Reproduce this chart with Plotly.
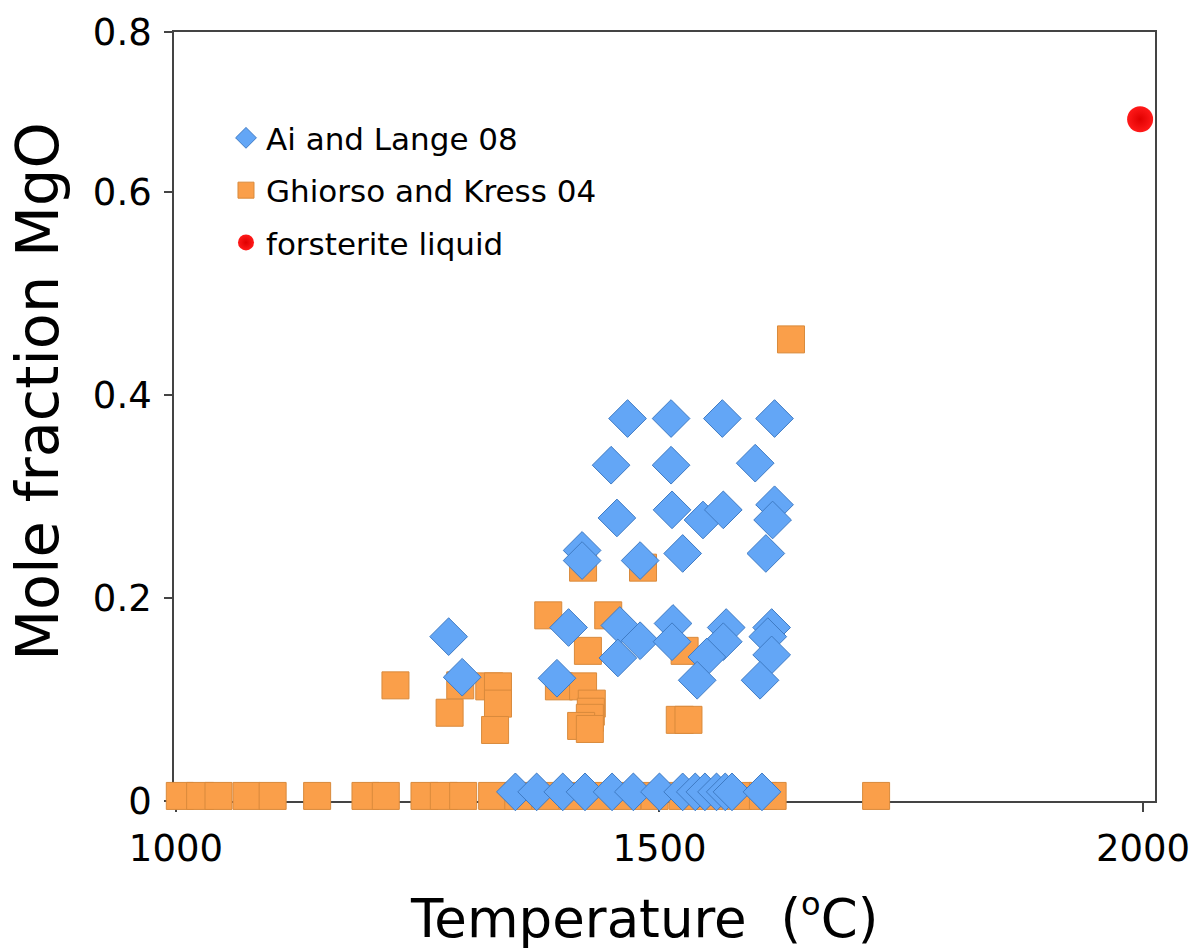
import plotly.graph_objects as go

# Ai and Lange (2008): temperature (°C) and mole fraction MgO
ai_temp = [1467, 1512, 1565, 1619,
           1450, 1512, 1599,
           1456, 1513, 1545, 1566, 1619, 1617,
           1420, 1420, 1480, 1524, 1610,
           1282, 1296, 1394, 1406, 1459, 1480, 1457, 1514, 1513,
           1569, 1566, 1549, 1539, 1616, 1612, 1616, 1604,
           1351, 1373, 1400, 1423, 1451, 1473, 1500, 1524, 1537,
           1547, 1559, 1568, 1575, 1606]
ai_mgo = [0.377, 0.377, 0.377, 0.377,
          0.331, 0.331, 0.333,
          0.279, 0.287, 0.277, 0.287, 0.292, 0.277,
          0.247, 0.237, 0.237, 0.244, 0.244,
          0.162, 0.122, 0.121, 0.171, 0.173, 0.158, 0.141, 0.175, 0.157,
          0.171, 0.157, 0.142, 0.119, 0.171, 0.162, 0.144, 0.119,
          0.009, 0.009, 0.009, 0.009, 0.009, 0.009, 0.009, 0.009, 0.009,
          0.009, 0.009, 0.009, 0.009, 0.009]

# Ghiorso and Kress (2004)
gk_temp = [1227, 1294, 1283, 1324, 1333, 1333, 1330,
           1385, 1447, 1426, 1526, 1396, 1421,
           1430, 1429, 1428, 1419, 1428, 1521, 1530,
           1421, 1483, 1636,
           1004, 1025, 1044, 1073, 1100, 1146, 1196, 1217, 1257, 1277,
           1297, 1327, 1354, 1382, 1410, 1438, 1467, 1495, 1524, 1552,
           1581, 1607, 1617, 1724]
gk_mgo = [0.114, 0.114, 0.087, 0.113, 0.113, 0.096, 0.070,
          0.183, 0.183, 0.148, 0.148, 0.113, 0.113,
          0.096, 0.088, 0.082, 0.074, 0.071, 0.080, 0.080,
          0.230, 0.230, 0.455,
          0.005, 0.005, 0.005, 0.005, 0.005, 0.005, 0.005, 0.005, 0.005, 0.005,
          0.005, 0.005, 0.005, 0.005, 0.005, 0.005, 0.005, 0.005, 0.005, 0.005,
          0.005, 0.005, 0.005, 0.005]

# Forsterite liquid
fo_temp = [1997]
fo_mgo = [0.672]

x_ticks = [1000, 1500, 2000]
y_tickvals = [0, 0.2, 0.4, 0.6, 0.758]
y_ticktext = ["0", "0.2", "0.4", "0.6", "0.8"]

FONT = "DejaVu Sans, Verdana, sans-serif"

fig = go.Figure()

fig.add_trace(go.Scatter(
    x=gk_temp, y=gk_mgo, mode="markers", name="Ghiorso and Kress 04",
    legendgroup="gk", legendrank=2, cliponaxis=False,
    marker=dict(symbol="square", size=27, color="#FA9F4A",
                line=dict(color="#D98A3C", width=1)),
))
fig.add_trace(go.Scatter(
    x=ai_temp, y=ai_mgo, mode="markers", name="Ai and Lange 08",
    legendgroup="ai", legendrank=1, cliponaxis=False,
    marker=dict(symbol="diamond", size=29, color="#63A6F6",
                line=dict(color="#3F7BC4", width=1)),
))
fig.add_trace(go.Scatter(
    x=fo_temp, y=fo_mgo, mode="markers", name="forsterite liquid",
    legendgroup="fo", legendrank=3, cliponaxis=False,
    marker=dict(symbol="circle", size=26, color="#FF1A1A",
                gradient=dict(type="radial", color="#E00000"),
                line=dict(width=0)),
))

axis_common = dict(
    ticks="outside", tickwidth=1.5, tickcolor="#444",
    showgrid=False, zeroline=False, automargin=False,
    showline=True, linecolor="#444", linewidth=1.8, mirror=True,
    layer="below traces", tickfont=dict(size=37), ticklabelstandoff=5,
)

fig.update_layout(
    width=1192, height=948,
    margin=dict(l=174, r=37, t=32, b=147),
    paper_bgcolor="white", plot_bgcolor="white",
    font=dict(family=FONT, color="black"),
    showlegend=True,
    legend=dict(
        x=0.053, y=0.897, xanchor="left", yanchor="top",
        font=dict(size=31, family=FONT),
        bgcolor="rgba(0,0,0,0)", tracegroupgap=9,
    ),
    xaxis=dict(range=[998, 2012.4], tickvals=x_ticks, ticklen=9,
               **axis_common),
    yaxis=dict(range=[0, 0.758], tickvals=y_tickvals, ticktext=y_ticktext,
               ticklen=8, **axis_common),
    annotations=[
        dict(text="Temperature  (<sup><span style='font-size:32px'>o</span></sup>C)",
             xref="paper", yref="paper", x=0.479, y=-0.151,
             xanchor="center", yanchor="middle", showarrow=False,
             font=dict(size=53)),
        dict(text="Mole fraction MgO", textangle=-90,
             xref="paper", yref="paper", x=-0.14, y=0.533,
             xanchor="center", yanchor="middle", showarrow=False,
             font=dict(size=59)),
    ],
)

fig.write_html("out.html")
